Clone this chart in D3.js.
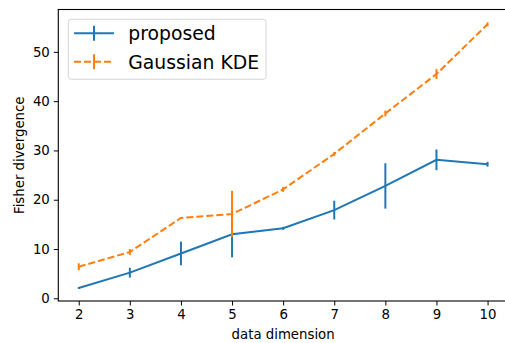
<!DOCTYPE html>
<html lang="en">
<head>
<meta charset="UTF-8">
<title>Fisher divergence</title>
<script src="https://cdn.jsdelivr.net/npm/d3@7"></script>
<style>
  body { margin: 0; background: #fff; }
  svg { display: block; font-family: "DejaVu Sans", sans-serif; }
</style>
</head>
<body>
<div id="chart"></div>
<script>
// data
var dims = [2, 3, 4, 5, 6, 7, 8, 9, 10];
var proposedMean = [2.1, 5.2, 9.1, 13.0, 14.2, 17.9, 22.8, 28.1, 27.2];
var proposedErr  = [0.2, 1.0, 2.4, 4.7, 0.3, 1.9, 4.6, 2.1, 0.5];
var kdeMean = [6.4, 9.4, 16.3, 17.1, 22.1, 29.3, 37.5, 45.5, 55.6];
var kdeErr  = [0.7, 0.6, 0.2, 4.7, 0.5, 0.4, 0.6, 1.0, 0.4];
var yTicks = [0, 10, 20, 30, 40, 50];

var width = 505, height = 343;
var margin = { left: 58.3, top: 9.5, right: -3, bottom: 42 };
var fs = 13.3;

var svg = d3.select("#chart").append("svg")
    .attr("width", width).attr("height", height);

// matplotlib-like 5% padding on both axes
var x = d3.scaleLinear().domain([1.6, 10.4])
    .range([margin.left, width - margin.right]);
var y = d3.scaleLinear().domain([-0.55, 58.6])
    .range([height - margin.bottom, margin.top]);

var series = [
  { name: "proposed", mean: proposedMean, err: proposedErr, color: "#1f77b4", dash: null },
  { name: "Gaussian KDE", mean: kdeMean, err: kdeErr, color: "#ff7f0e", dash: "7,3" }
];

var line = d3.line()
    .x(function (d) { return x(d[0]); })
    .y(function (d) { return y(d[1]); });

series.forEach(function (s) {
  var pts = dims.map(function (d, i) { return [d, s.mean[i]]; });
  svg.append("path")
      .attr("d", line(pts))
      .attr("fill", "none")
      .attr("stroke", s.color)
      .attr("stroke-width", 2)
      .attr("stroke-dasharray", s.dash);

  svg.append("g").selectAll("line")
      .data(dims)
      .join("line")
      .attr("x1", function (d) { return x(d); })
      .attr("x2", function (d) { return x(d); })
      .attr("y1", function (d, i) { return y(s.mean[i] - s.err[i]); })
      .attr("y2", function (d, i) { return y(s.mean[i] + s.err[i]); })
      .attr("stroke", s.color)
      .attr("stroke-width", 2);
});

// axes
var xAxis = d3.axisBottom(x).tickValues(dims).tickSize(4.5).tickPadding(4.5);
var yAxis = d3.axisLeft(y).tickValues(yTicks).tickSize(4.5).tickPadding(4);

var gx = svg.append("g")
    .attr("transform", "translate(0," + (height - margin.bottom) + ")")
    .call(xAxis);
var gy = svg.append("g")
    .attr("transform", "translate(" + margin.left + ",0)")
    .call(yAxis);

[gx, gy].forEach(function (g) {
  g.select(".domain").remove();
  g.selectAll(".tick line").attr("stroke", "#000").attr("stroke-width", 1);
  g.selectAll("text").attr("font-size", fs).attr("fill", "#000")
      .attr("font-family", "DejaVu Sans");
});

// spines
svg.append("rect")
    .attr("x", margin.left).attr("y", margin.top)
    .attr("width", width - margin.right - margin.left)
    .attr("height", height - margin.bottom - margin.top)
    .attr("fill", "none").attr("stroke", "#000").attr("stroke-width", 1.1);

// axis labels
svg.append("text")
    .attr("x", (margin.left + width - margin.right) / 2)
    .attr("y", 338.5)
    .attr("text-anchor", "middle")
    .attr("font-size", fs)
    .text("data dimension");

svg.append("text")
    .attr("transform", "translate(23.5," + ((margin.top + height - margin.bottom) / 2) + ") rotate(-90)")
    .attr("text-anchor", "middle")
    .attr("font-size", fs)
    .text("Fisher divergence");

// legend
var legend = svg.append("g");
legend.append("rect")
    .attr("x", 68.3).attr("y", 19.3)
    .attr("width", 197.7).attr("height", 60)
    .attr("rx", 3)
    .attr("fill", "#fff").attr("fill-opacity", 0.8)
    .attr("stroke", "#d6d6d6").attr("stroke-width", 1);

series.forEach(function (s, i) {
  var cy = 33.3 + i * 28.4;
  legend.append("line")
      .attr("x1", 74).attr("x2", 114).attr("y1", cy).attr("y2", cy)
      .attr("stroke", s.color).attr("stroke-width", 2)
      .attr("stroke-dasharray", s.dash);
  legend.append("line")
      .attr("x1", 94).attr("x2", 94).attr("y1", cy - 7.5).attr("y2", cy + 7.5)
      .attr("stroke", s.color).attr("stroke-width", 2);
  legend.append("text")
      .attr("x", 128.3).attr("y", cy + 6.8)
      .attr("font-size", 18.8)
      .text(s.name);
});
</script>
</body>
</html>
